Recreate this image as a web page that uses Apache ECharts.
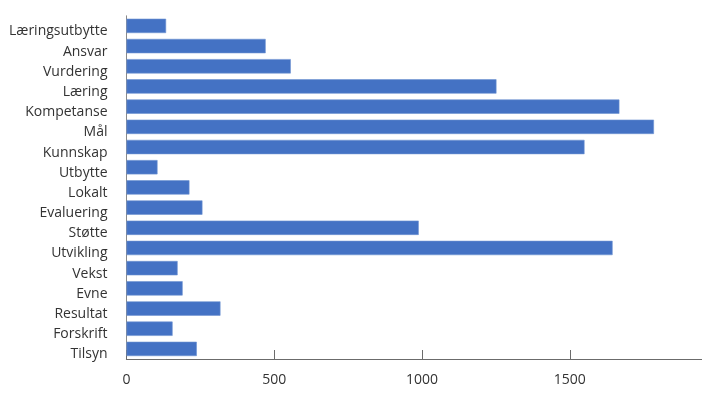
<!DOCTYPE html>
<html>
<head>
<meta charset="utf-8">
<script src="https://cdn.jsdelivr.net/npm/echarts@6/dist/echarts.min.js"></script>
<style>
  html, body { margin: 0; padding: 0; background: #fff; }
  #chart { width: 702px; height: 403px; }
</style>
</head>
<body>
<div id="chart"></div>
<script>
// kategorier, ovenfra og ned
var categories = ['Læringsutbytte', 'Ansvar', 'Vurdering', 'Læring', 'Kompetanse', 'Mål', 'Kunnskap',
    'Utbytte', 'Lokalt', 'Evaluering', 'Støtte', 'Utvikling', 'Vekst', 'Evne', 'Resultat', 'Forskrift', 'Tilsyn'];
var values = [134, 471, 556, 1252, 1668, 1785, 1550, 105, 213, 257, 989, 1645, 173, 190, 318, 156, 238];
var xTicks = [0, 500, 1000, 1500, 2000];

(function () {
    var myChart = echarts.init(document.getElementById('chart'));
    var option = {
        animation: false,
        textStyle: { fontFamily: 'Open Sans' },
        grid: {
            left: 126.5,
            right: -15.5,
            top: 15.8,
            bottom: 44,
            outerBoundsMode: 'none',
            containLabel: false
        },
        xAxis: {
            type: 'value',
            min: xTicks[0],
            max: xTicks[xTicks.length - 1],
            interval: 500,
            splitLine: { show: false },
            axisLine: { show: true, lineStyle: { color: '#6b6b6b', width: 1.2 } },
            axisTick: { show: true, inside: true, length: 9, lineStyle: { color: '#6b6b6b' } },
            axisLabel: {
                color: '#333', fontSize: 14, margin: 14,
                formatter: function (v) { return String(v); }
            }
        },
        yAxis: {
            type: 'category',
            inverse: true,
            data: categories,
            axisLine: { show: true, lineStyle: { color: '#8a8a8a' } },
            axisTick: { show: false },
            axisLabel: { color: '#333', fontSize: 14, margin: 19, verticalAlign: 'top', lineHeight: 11 }
        },
        series: [{
            type: 'bar',
            data: values,
            barCategoryGap: '29%',
            itemStyle: {
                color: '#4472c4',
                borderColor: '#6f93d2',
                borderWidth: 0.6
            }
        }]
    };
    myChart.setOption(option);
    window.addEventListener('resize', function () {
        myChart.resize();
    });
})();
</script>
</body>
</html>
